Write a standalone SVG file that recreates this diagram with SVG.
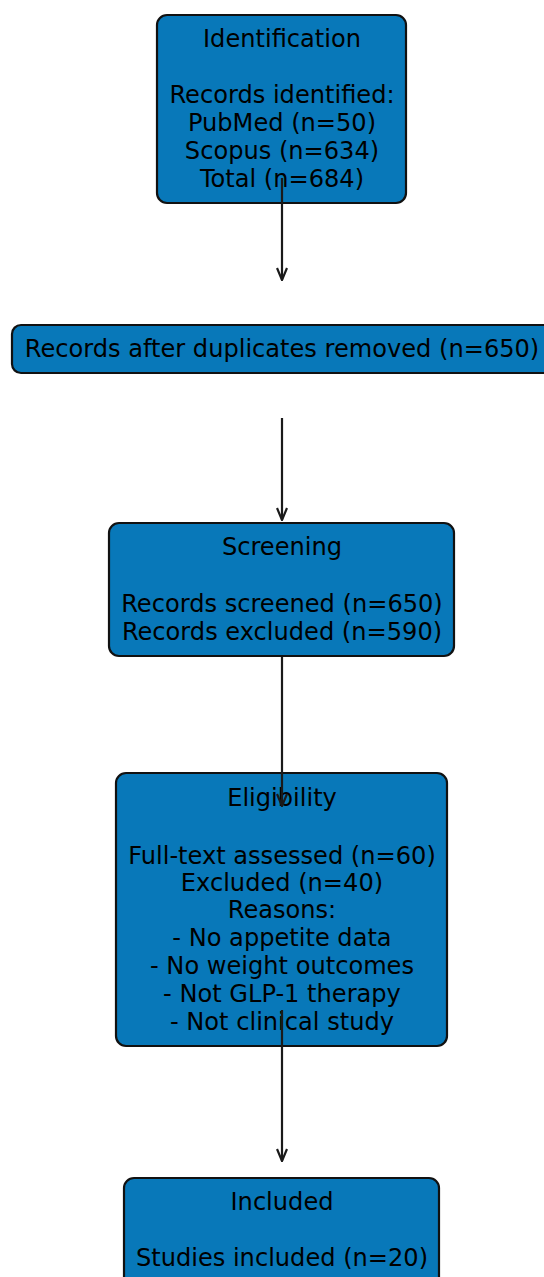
<svg xmlns="http://www.w3.org/2000/svg" width="544" height="1277" viewBox="0 0 544 1277">
  <style>
    .box { fill: #0878b9; stroke: #111; stroke-width: 2.2; }
    .lbl { font-family: "DejaVu Sans", sans-serif; font-size: 24.1px; fill: #000; text-anchor: middle; }
    .wire { stroke: #1a1a1a; stroke-width: 2.2; fill: none; }
  </style>
  <defs>
    <!-- open V arrowhead, drawn along +x so orient="auto" points it down the line -->
    <marker id="head" markerWidth="14" markerHeight="12" refX="13" refY="6" orient="auto" markerUnits="userSpaceOnUse" viewBox="0 0 14 12">
      <path d="M1,1 L13,6 L1,11" fill="none" stroke="#1a1a1a" stroke-width="2.2"/>
    </marker>
  </defs>

  <rect width="544" height="1277" fill="#fff"/>

  <g id="identification">
    <rect class="box" x="157" y="15" width="249" height="188" rx="10"/>
    <text class="lbl" x="282" y="47">Identification</text>
    <text class="lbl" x="282" y="103">Records identified:</text>
    <text class="lbl" x="282" y="131">PubMed (n=50)</text>
    <text class="lbl" x="282" y="159">Scopus (n=634)</text>
    <text class="lbl" x="282" y="187">Total (n=684)</text>
  </g>

  <g id="deduplicated">
    <rect class="box" x="12" y="325" width="545" height="48" rx="9"/>
    <text class="lbl" x="282" y="357">Records after duplicates removed (n=650)</text>
  </g>

  <g id="screening">
    <rect class="box" x="109" y="523" width="345" height="133" rx="10"/>
    <text class="lbl" x="282" y="555">Screening</text>
    <text class="lbl" x="282" y="612">Records screened (n=650)</text>
    <text class="lbl" x="282" y="640">Records excluded (n=590)</text>
  </g>

  <g id="eligibility">
    <rect class="box" x="116" y="773" width="331" height="273" rx="10"/>
    <text class="lbl" x="282" y="806">Eligibility</text>
    <text class="lbl" x="282" y="864">Full-text assessed (n=60)</text>
    <text class="lbl" x="282" y="891">Excluded (n=40)</text>
    <text class="lbl" x="282" y="918">Reasons:</text>
    <text class="lbl" x="282" y="946">- No appetite data</text>
    <text class="lbl" x="282" y="974">- No weight outcomes</text>
    <text class="lbl" x="282" y="1002">- Not GLP-1 therapy</text>
    <text class="lbl" x="282" y="1030">- Not clinical study</text>
  </g>

  <g id="included">
    <rect class="box" x="124" y="1178" width="315" height="130" rx="10"/>
    <text class="lbl" x="282" y="1210">Included</text>
    <text class="lbl" x="282" y="1266">Studies included (n=20)</text>
  </g>

  <g id="connectors">
    <line class="wire" x1="282" y1="178" x2="282" y2="280" marker-end="url(#head)"/>
    <line class="wire" x1="282" y1="418" x2="282" y2="520" marker-end="url(#head)"/>
    <line class="wire" x1="282" y1="657" x2="282" y2="806" marker-end="url(#head)"/>
    <line class="wire" x1="282" y1="1010" x2="282" y2="1161" marker-end="url(#head)"/>
  </g>
</svg>
